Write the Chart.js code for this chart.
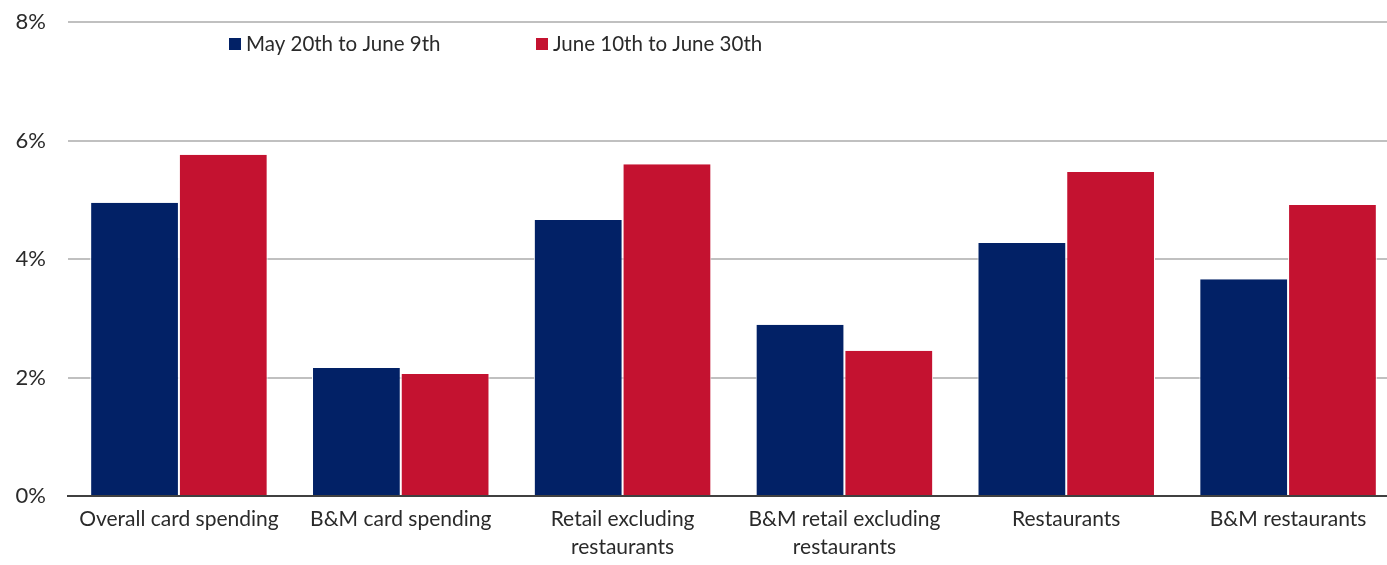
<!DOCTYPE html>
<html>
<head>
<meta charset="utf-8">
<script src="https://cdn.jsdelivr.net/npm/chart.js@4/dist/chart.umd.min.js"></script>
<style>
  html, body { margin: 0; padding: 0; background: #fff; overflow: hidden; }
  /* plot runs a little past the right edge of the window in the original */
  #wrap { width: 1399px; height: 565px; position: relative; }
</style>
</head>
<body>
<div id="wrap"><canvas id="chart"></canvas></div>
<script>
// data
const categories = [
  "Overall card spending",
  ["B&M card spending"],
  ["Retail excluding", "restaurants"],
  ["B&M retail excluding", "restaurants"],
  "Restaurants",
  "B&M restaurants",
];
const seriesNames = ["May 20th to June 9th", "June 10th to June 30th"];
const earlyJune = [4.95, 2.16, 4.66, 2.89, 4.27, 3.66];
const lateJune = [5.76, 2.06, 5.60, 2.45, 5.47, 4.91];
const yTicks = [0, 2, 4, 6, 8];

const BLUE = "#022166";
const RED = "#c41230";
const TEXT = "#2a2a2a";
const FONT = "Lato, 'Open Sans', sans-serif";

// legend sits inside the plot area, so draw it by hand
const inlineLegend = {
  id: "inlineLegend",
  afterDraw(chart) {
    const ctx = chart.ctx;
    const items = [
      { x: 229, color: BLUE, text: seriesNames[0] },
      { x: 536, color: RED, text: seriesNames[1] },
    ];
    ctx.save();
    ctx.font = "20.5px " + FONT;
    ctx.textBaseline = "middle";
    for (const it of items) {
      ctx.fillStyle = it.color;
      ctx.fillRect(it.x, 38, 12, 12);
      ctx.fillStyle = TEXT;
      ctx.fillText(it.text, it.x + 17, 44);
    }
    ctx.restore();
  },
};

new Chart(document.getElementById("chart"), {
  type: "bar",
  data: {
    labels: categories,
    datasets: [
      {
        label: seriesNames[0],
        data: earlyJune,
        backgroundColor: BLUE,
        borderColor: "#ffffff",
        borderWidth: { left: 1, right: 1, top: 0, bottom: 0 },
        borderSkipped: false,
      },
      {
        label: seriesNames[1],
        data: lateJune,
        backgroundColor: RED,
        borderColor: "#ffffff",
        borderWidth: { left: 1, right: 1, top: 0, bottom: 0 },
        borderSkipped: false,
      },
    ],
  },
  options: {
    responsive: true,
    maintainAspectRatio: false,
    animation: false,
    categoryPercentage: 0.8,
    barPercentage: 1.0,
    layout: { padding: { top: 22, left: 0, right: 0, bottom: 0 } },
    plugins: {
      legend: { display: false },
      tooltip: { enabled: false },
    },
    scales: {
      x: {
        grid: { display: false, drawTicks: false },
        border: { display: true, color: "#404040", width: 2 },
        ticks: {
          color: TEXT,
          font: { family: FONT, size: 21, lineHeight: 1.35 },
          padding: 9,
          autoSkip: false,
          maxRotation: 0,
          minRotation: 0,
        },
        afterFit: (scale) => {
          scale.height = 69;
          scale.paddingLeft = 0;
          scale.paddingRight = 0;
        },
      },
      y: {
        min: 0,
        max: 8,
        afterBuildTicks: (scale) => {
          scale.ticks = yTicks.map((v) => ({ value: v }));
        },
        grid: { color: "#c0c0c0", lineWidth: 2, drawTicks: false },
        border: { display: false },
        ticks: {
          color: TEXT,
          font: { family: FONT, size: 22 },
          padding: 22,
          callback: (v) => `${v}%`,
        },
        // tick padding otherwise gets added above the plot too
        afterFit: (scale) => {
          scale.width = 68;
          scale.paddingTop = 0;
          scale.paddingBottom = 0;
        },
      },
    },
  },
  plugins: [inlineLegend],
});
</script>
</body>
</html>
